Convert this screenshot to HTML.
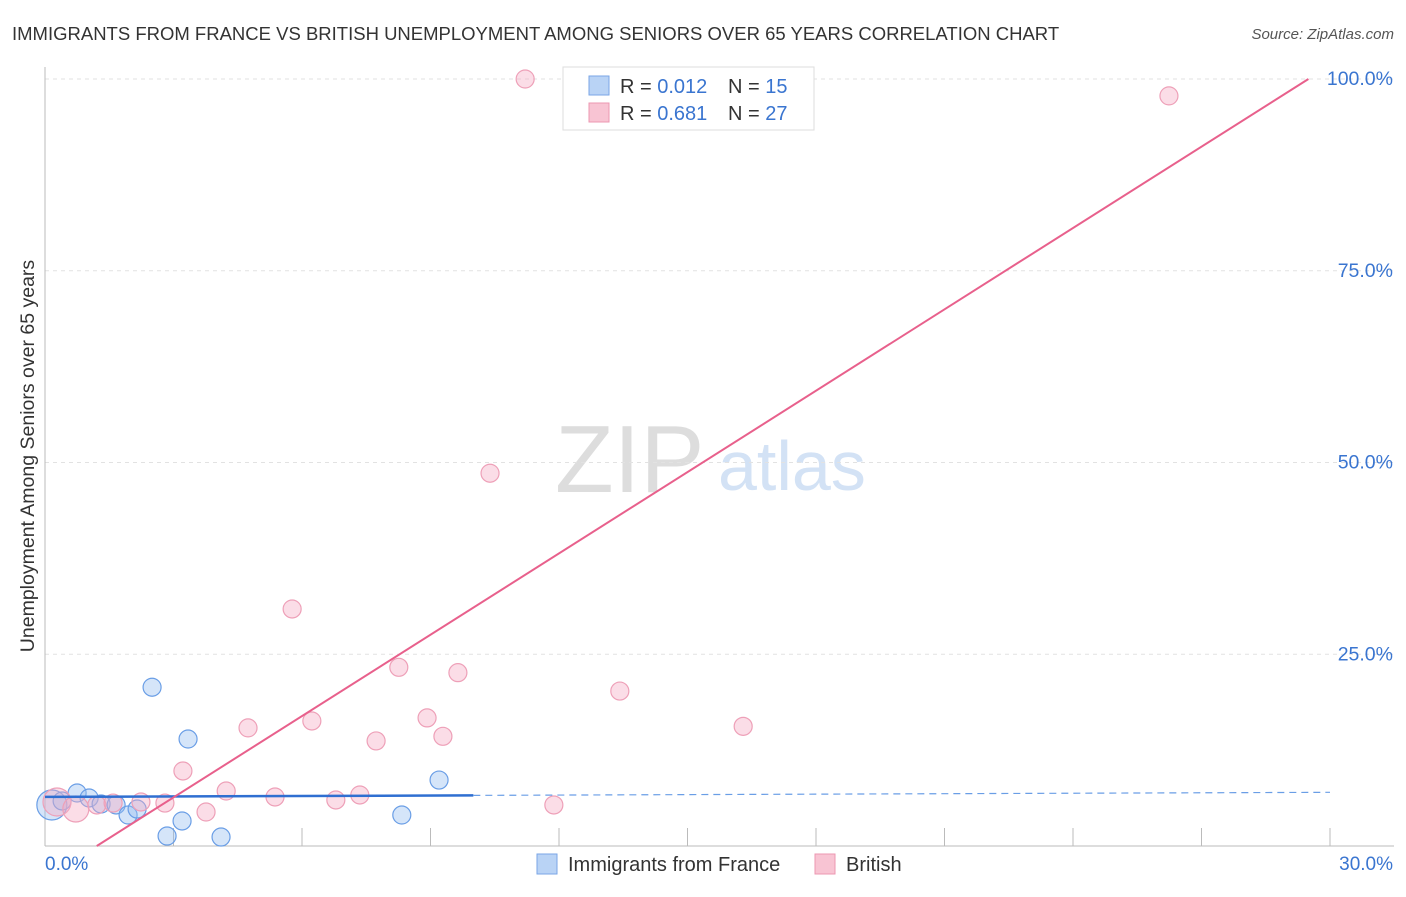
<!DOCTYPE html>
<html><head><meta charset="utf-8"><style>
body{margin:0;background:#fff;font-family:"Liberation Sans",sans-serif}
svg text{font-family:"Liberation Sans",sans-serif}
</style></head><body>
<svg id="chart" width="1406" height="892" xmlns="http://www.w3.org/2000/svg">
<text x="12" y="40" font-size="18.5" fill="#333">IMMIGRANTS FROM FRANCE VS BRITISH UNEMPLOYMENT AMONG SENIORS OVER 65 YEARS CORRELATION CHART</text>
<text x="1394" y="39" font-size="15" fill="#555" font-style="italic" text-anchor="end">Source: ZipAtlas.com</text>
<text x="555" y="492" font-size="96" font-family="Liberation Serif" fill="#ddd">ZIP</text>
<text x="718" y="490" font-size="70" fill="#d3e2f5">atlas</text>
<g id="grid"></g>
<g id="axes"></g>
<g id="marks"></g>
<text transform="translate(34,456) rotate(-90)" font-size="19.5" fill="#333" text-anchor="middle">Unemployment Among Seniors over 65 years</text>
<text x="45" y="870" font-size="19" fill="#3a75d0">0.0%</text>
<text x="1393" y="870" font-size="19" fill="#3a75d0" text-anchor="end">30.0%</text>
<g>
<rect x="563" y="67" width="251" height="63" fill="#fff" stroke="#ddd"/>
<rect x="589" y="76" width="20" height="19" fill="#b9d3f5" stroke="#7aa6e6"/>
<rect x="589" y="103" width="20" height="19" fill="#f8c4d3" stroke="#ec97b2"/>
<text x="620" y="93" font-size="20" fill="#333">R = <tspan fill="#3a75d0">0.012</tspan><tspan x="728">N = </tspan><tspan fill="#3a75d0">15</tspan></text>
<text x="620" y="120" font-size="20" fill="#333">R = <tspan fill="#3a75d0">0.681</tspan><tspan x="728">N = </tspan><tspan fill="#3a75d0">27</tspan></text>
</g>
<g>
<rect x="537" y="854" width="20" height="20" fill="#b9d3f5" stroke="#7aa6e6"/>
<text x="568" y="871" font-size="20" fill="#333">Immigrants from France</text>
<rect x="815" y="854" width="20" height="20" fill="#f8c4d3" stroke="#ec97b2"/>
<text x="846" y="871" font-size="20" fill="#333">British</text>
</g>
</svg>
<script>
const yTicks=[25,50,75,100];
const yTickLabels=["25.0%","50.0%","75.0%","100.0%"];
const franceX=[0.16,0.40,0.75,1.03,1.31,1.66,1.94,2.15,2.50,2.85,3.20,3.34,4.11,8.33,9.20];
const franceY=[5.35,5.87,6.91,6.26,5.48,5.35,4.04,4.82,20.7,1.30,3.26,13.95,1.17,4.04,8.6];
const franceR=[15,9,9,9,9,9,9,9,9,9,9,9,9,9,9];
const britishX=[0.28,0.72,1.21,1.59,2.24,2.80,3.22,3.76,4.23,4.74,5.37,5.77,6.23,6.79,7.35,7.73,8.26,8.92,9.29,9.64,10.39,11.21,11.88,13.42,13.73,16.30,26.24];
const britishY=[5.74,4.82,5.35,5.6,5.74,5.6,9.78,4.43,7.17,15.4,6.39,30.9,16.3,6.0,6.65,13.7,23.3,16.7,14.3,22.6,48.6,100,5.35,20.2,100,15.6,97.8];
const britishR=[14,13,9,9,9,9,9,9,9,9,9,9,9,9,9,9,9,9,9,9,9,9,9,9,9,9,9];
const franceTrend=[6.4,0.02];
const britishTrend=[-4.27,3.535];
const NS="http://www.w3.org/2000/svg";
const sx=v=>45+v/30*1285, sy=v=>846-v*7.67;
function mk(tag,attrs,parent){const e=document.createElementNS(NS,tag);for(const k in attrs)e.setAttribute(k,attrs[k]);document.getElementById(parent).appendChild(e);return e;}
yTicks.forEach((t,i)=>{
 const l=mk('line',{x1:45,x2:1394,y1:sy(t),y2:sy(t),stroke:'#e2e2e2','stroke-dasharray':'4,4'},'grid');
 
 
 const tx=mk('text',{x:1393,y:sy(t)+6,'font-size':19.5,fill:'#3a75d0','text-anchor':'end'},'grid');
 tx.textContent=yTickLabels[i];
 
 
});
const ax=mk('line',{x1:45,x2:45,y1:67,y2:846,stroke:'#bbb'},'axes');


const bx=mk('line',{x1:45,x2:1394,y1:846,y2:846,stroke:'#bbb'},'axes');


for(let i=1;i<=10;i++){const x=sx(i*3);const t=mk('line',{x1:x,x2:x,y1:828,y2:846,stroke:'#bbb'},'axes');
 
 }
franceX.forEach((x,i)=>{const c=mk('circle',{cx:sx(x),cy:sy(franceY[i]),r:franceR[i],fill:'rgba(150,190,240,0.4)',stroke:'#6a9ee6','stroke-width':1.2},'marks');
 
 });
britishX.forEach((x,i)=>{const c=mk('circle',{cx:sx(x),cy:sy(britishY[i]),r:britishR[i],fill:'rgba(245,170,195,0.4)',stroke:'#eea0b8','stroke-width':1.2},'marks');
 
 });
const fy=x=>franceTrend[0]+franceTrend[1]*x;
const f1=mk('line',{x1:sx(0),y1:sy(fy(0)),x2:sx(10),y2:sy(fy(10)),stroke:'#2f6fd1','stroke-width':2.5},'marks');


const f2=mk('line',{x1:sx(10),y1:sy(fy(10)),x2:sx(30),y2:sy(fy(30)),stroke:'#6a9ee6','stroke-width':1.2,'stroke-dasharray':'7,5'},'marks');


const x0=-britishTrend[0]/britishTrend[1], x1=(100-britishTrend[0])/britishTrend[1];
const b1=mk('line',{x1:sx(x0),y1:sy(0),x2:sx(x1),y2:sy(100),stroke:'#e8608c','stroke-width':2},'marks');


</script>
</body></html>
